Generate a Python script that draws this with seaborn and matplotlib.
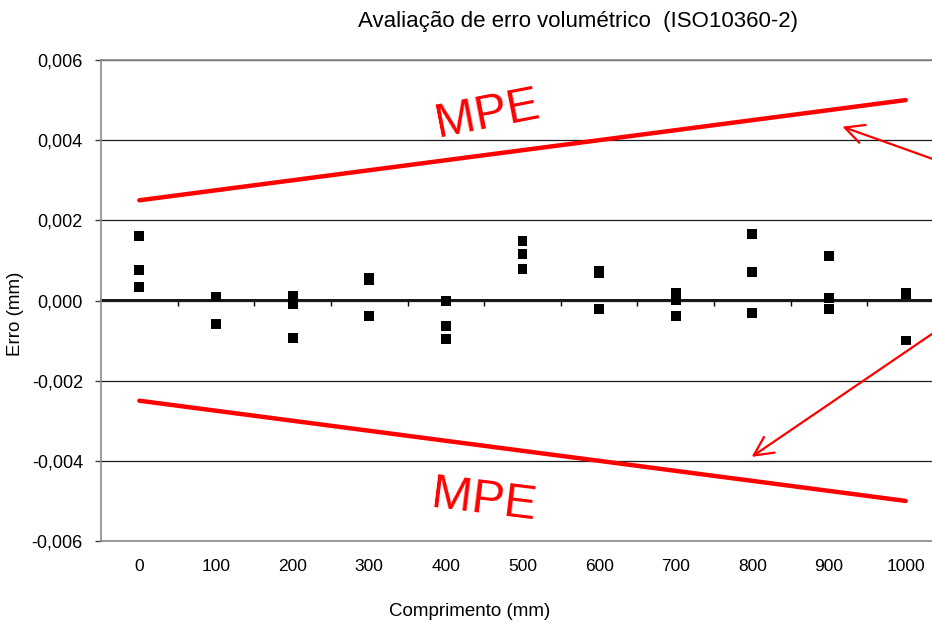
"""Avaliação de erro volumétrico (ISO10360-2) - erro vs comprimento com limites MPE."""

import matplotlib
matplotlib.use("Agg")
import matplotlib.pyplot as plt
import numpy as np
import pandas as pd
import seaborn as sns
from matplotlib.ticker import FuncFormatter

# dados
comprimento = [0, 0, 0, 100, 100, 100, 200, 200, 200, 300, 300, 300,
               400, 400, 400, 500, 500, 500, 600, 600, 600, 700, 700, 700,
               800, 800, 800, 900, 900, 900, 1000, 1000, 1000]
erro = [0.00160, 0.00076, 0.00034,
        0.00010, 0.00010, -0.00058,
        0.00011, -0.00010, -0.00093,
        0.00056, 0.00051, -0.00038,
        -0.00001, -0.00064, -0.00097,
        0.00149, 0.00115, 0.00079,
        0.00074, 0.00069, -0.00022,
        0.00020, 0.00002, -0.00039,
        0.00166, 0.00071, -0.00032,
        0.00110, 0.00006, -0.00022,
        0.00020, 0.00016, -0.00100]
mpe_x = [0, 1000]
mpe_sup = [0.0025, 0.0050]
mpe_inf = [-0.0025, -0.0050]
x_ticks = [0, 100, 200, 300, 400, 500, 600, 700, 800, 900, 1000]
y_ticks = [-0.006, -0.004, -0.002, 0.0, 0.002, 0.004, 0.006]

df = pd.DataFrame({"Comprimento": comprimento, "Erro": erro})
mpe = pd.DataFrame({"x": mpe_x + mpe_x, "y": mpe_sup + mpe_inf,
                    "lim": ["sup", "sup", "inf", "inf"]})

sns.set_theme(style="white")
plt.rcParams["font.family"] = ["Liberation Sans", "DejaVu Sans"]

W, H = 932, 626
fig = plt.figure(figsize=(W / 100, H / 100), dpi=100)
# a área do gráfico ultrapassa a borda direita (imagem recortada)
ax = fig.add_axes([101 / W, (H - 541) / H, 843 / W, 481 / H])
ax.set_xlim(-50, 1050)
ax.set_ylim(-0.006, 0.006)

ax.set_yticks(y_ticks)
ax.yaxis.grid(True, color="#1a1a1a", lw=0.9)
ax.set_axisbelow(True)

sns.lineplot(data=mpe, x="x", y="y", units="lim", estimator=None,
             color="#ff0000", lw=3.2, ax=ax, legend=False)
sns.scatterplot(data=df, x="Comprimento", y="Erro", marker="s", s=50,
                color="black", edgecolor="none", ax=ax, zorder=5)

ax.set_xticks(x_ticks)
ax.tick_params(axis="x", length=0, pad=13, labelsize=12.5, labelcolor="black")
ax.tick_params(axis="y", length=4, width=1, color="#404040", direction="out",
               left=True, pad=9, labelsize=13, labelcolor="black")
ax.yaxis.set_major_formatter(FuncFormatter(
    lambda v, p: f"{abs(v) if abs(v) < 1e-9 else v:.3f}".replace(".", ",")))
for s in ["left", "top", "bottom", "right"]:
    ax.spines[s].set_color("#8a8a8a")
    ax.spines[s].set_linewidth(1.2)

# eixo em y = 0 com marcas entre categorias (apontando para baixo)
sec = ax.secondary_xaxis(0.5)
sec.set_xticks([x + 50 for x in x_ticks[:-1]])
sec.set_xticklabels([])
sec.tick_params(axis="x", length=4, width=1, color="black", direction="in")
for s in sec.spines.values():
    s.set_color("black")
    s.set_linewidth(1.3)

ax.set_xlabel("Comprimento (mm)", fontsize=13.5, color="black")
ax.xaxis.set_label_coords((470 - 101) / 843, (541 - 603) / 481)
ax.set_ylabel("Erro (mm)", fontsize=13.5, color="black")
ax.yaxis.set_label_coords((24 - 101) / 843, (541 - 314) / 481)

fig.text(578 / W, 1 - 22 / H, "Avaliação de erro volumétrico  (ISO10360-2)",
         ha="center", va="center", fontsize=16, color="black")

# anotações MPE
ax.text(454, 0.00464, "MPE", color="#ff0000", fontsize=35, rotation=11,
        ha="center", va="center")
ax.text(449, -0.00499, "MPE", color="#ff0000", fontsize=35, rotation=-7,
        ha="center", va="center")
arrow = dict(arrowstyle="->", color="#ff0000", lw=1.6, mutation_scale=34)
ax.annotate("", xy=(914, 0.00436), xytext=(1050, 0.00343),
            arrowprops=arrow, annotation_clip=False)
ax.annotate("", xy=(796, -0.00394), xytext=(1050, -0.00063),
            arrowprops=arrow, annotation_clip=False)

fig.savefig("out.png", dpi=100, facecolor="white")
plt.close(fig)
